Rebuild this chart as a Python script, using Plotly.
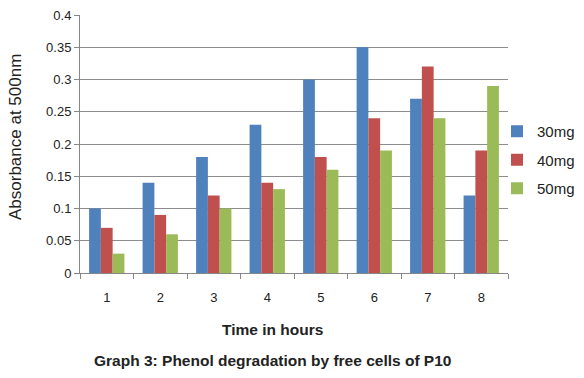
import plotly.graph_objects as go

hours = ["1", "2", "3", "4", "5", "6", "7", "8"]
mg30 = [0.10, 0.14, 0.18, 0.23, 0.30, 0.35, 0.27, 0.12]
mg40 = [0.07, 0.09, 0.12, 0.14, 0.18, 0.24, 0.32, 0.19]
mg50 = [0.03, 0.06, 0.10, 0.13, 0.16, 0.19, 0.24, 0.29]
y_ticks = [0, 0.05, 0.1, 0.15, 0.2, 0.25, 0.3, 0.35, 0.4]
y_labels = ["0", "0.05", "0.1", "0.15", "0.2", "0.25", "0.3", "0.35", "0.4"]

fig = go.Figure()
for name, vals, col in [("30mg", mg30, "#4F81BD"), ("40mg", mg40, "#C0504D"), ("50mg", mg50, "#9BBB59")]:
    fig.add_trace(go.Bar(x=hours, y=vals, name=name, legendgroup=name,
                         marker=dict(color=col, line=dict(width=0))))

L, R, T, B = 80, 76, 15, 105
PW, PH = 584 - L - R, 378 - T - B

fig.update_layout(
    width=584, height=378,
    margin=dict(l=L, r=R, t=T, b=B, autoexpand=False),
    paper_bgcolor="white", plot_bgcolor="white",
    barmode="group", bargap=0.34, bargroupgap=0,
    hovermode=False,
    font=dict(family="Liberation Sans, Arial, sans-serif", color="#222222"),
    legend=dict(x=(497 - L) / PW, y=(273 - 160) / PH, xanchor="left", yanchor="middle",
                font=dict(size=15), itemwidth=30, tracegroupgap=6,
                bgcolor="rgba(0,0,0,0)"),
    showlegend=True,
)
fig.update_xaxes(
    type="category", tickson="boundaries", ticks="outside", ticklen=5,
    tickcolor="#868686", showline=True, linecolor="#868686", linewidth=1,
    showgrid=False, tickfont=dict(size=13, color="#222222"), automargin=False,
    ticklabelstandoff=12,
)
fig.update_yaxes(
    range=[0, 0.4], tickvals=y_ticks, ticktext=y_labels, ticks="outside", ticklen=5,
    tickcolor="#868686", showline=True, linecolor="#868686", linewidth=1,
    showgrid=True, gridcolor="#8C8C8C", gridwidth=1, zeroline=False,
    tickfont=dict(size=13, color="#222222"), automargin=False,
)
fig.add_annotation(
    text="Absorbance at 500nm", textangle=-90,
    xref="paper", yref="paper", x=(15 - L) / PW, y=(273 - 137) / PH,
    xanchor="center", yanchor="middle", showarrow=False,
    font=dict(size=17, color="#222222"),
)
fig.add_annotation(
    text="<b>Time in hours</b>",
    xref="paper", yref="paper", x=(272 - L) / PW, y=(273 - 329) / PH,
    xanchor="center", yanchor="middle", showarrow=False,
    font=dict(size=15.5, color="#222222"),
)
fig.add_annotation(
    text="<b>Graph 3: Phenol degradation by free cells of P10</b>",
    xref="paper", yref="paper", x=(272 - L) / PW, y=(273 - 360) / PH,
    xanchor="center", yanchor="middle", showarrow=False,
    font=dict(size=15.5, color="#222222"),
)
fig.write_html("out.html", config={"displayModeBar": False},
               post_script="document.body.style.margin='0';")
